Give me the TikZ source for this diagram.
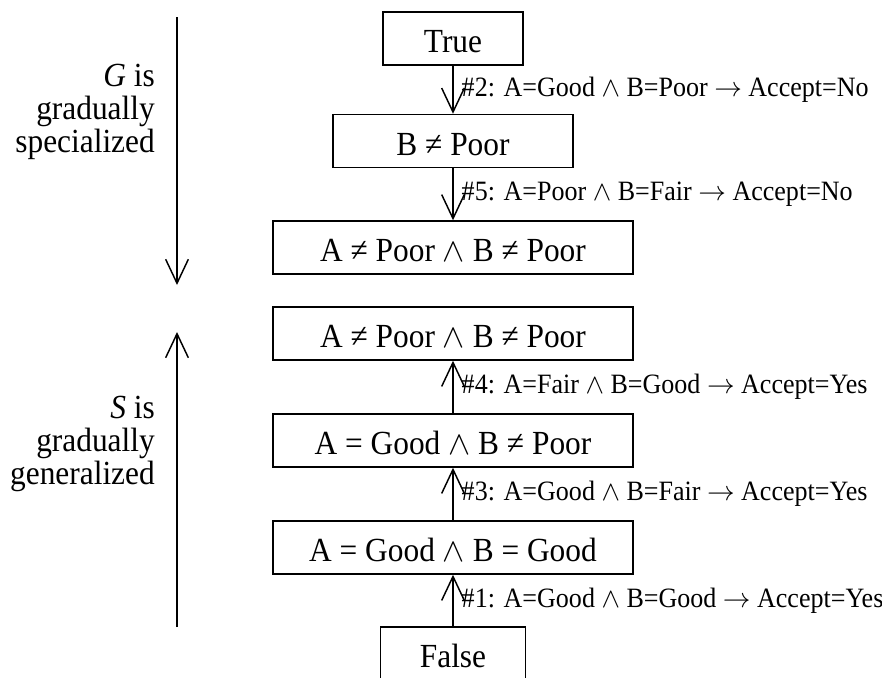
\documentclass[tikz,border=0pt]{standalone}
\usepackage{fontspec}
\setmainfont[FakeStretch=0.93]{Liberation Serif}
\usetikzlibrary{arrows.meta}
\begin{document}
\begin{tikzpicture}[x=0.75pt, y=-0.75pt]
\tikzset{hyp/.style={draw, line width=1.1pt, inner sep=0pt, minimum height=39.75pt, text height=21pt, text depth=0pt, font=\fontsize{25.3}{30}\selectfont},
fl/.style={line width=1.1pt, -{Straight Barb[length=18pt, width=17pt, line width=1.1pt]}},
regle/.style={right, inner sep=0pt, xshift=6pt, font=\fontsize{21}{25}\selectfont},
cote/.style={align=right, anchor=east, inner sep=0pt, font=\fontsize{25.3}{24.75}\selectfont}}
\useasboundingbox (0, 0) rectangle (882, 678);
\node[hyp, minimum width=105pt] (G0) at (453, 38.5) {True};
\node[hyp, minimum width=180pt] (G1) at (453, 141) {B ≠ Poor};
\node[hyp, minimum width=270pt] (G2) at (453, 247.5) {A ≠ Poor $\wedge$ B ≠ Poor};
\node[hyp, minimum width=270pt] (S3) at (453, 333.5) {A ≠ Poor $\wedge$ B ≠ Poor};
\node[hyp, minimum width=270pt] (S2) at (453, 440.5) {A = Good $\wedge$ B ≠ Poor};
\node[hyp, minimum width=270pt] (S1) at (453, 547.5) {A = Good $\wedge$ B = Good};
\node[hyp, minimum width=108.75pt] (S0) at (453, 653.5) {False};
\draw[fl] (G0) -- (G1) node[regle, midway] {\#2: A=Good $\wedge$ B=Poor $\rightarrow$ Accept=No};
\draw[fl] (G1) -- (G2) node[regle, midway] {\#5: A=Poor $\wedge$ B=Fair $\rightarrow$ Accept=No};
\draw[fl] (S0) -- (S1) node[regle, midway] {\#1: A=Good $\wedge$ B=Good $\rightarrow$ Accept=Yes};
\draw[fl] (S1) -- (S2) node[regle, midway] {\#3: A=Good $\wedge$ B=Fair $\rightarrow$ Accept=Yes};
\draw[fl] (S2) -- (S3) node[regle, midway] {\#4: A=Fair $\wedge$ B=Good $\rightarrow$ Accept=Yes};
\coordinate (gh) at (177, 17);
\coordinate (gb) at (177, 285);
\coordinate (sb) at (177, 627);
\coordinate (sh) at (177, 332);
\draw[fl] (gh) -- (gb);
\draw[fl] (sb) -- (sh);
\node[cote] (tg) at (155, 112) {\textit{G} is\\gradually\\specialized};
\node[cote] (ts) at (155, 444) {\textit{S} is\\gradually\\generalized};
\end{tikzpicture}
\end{document}
